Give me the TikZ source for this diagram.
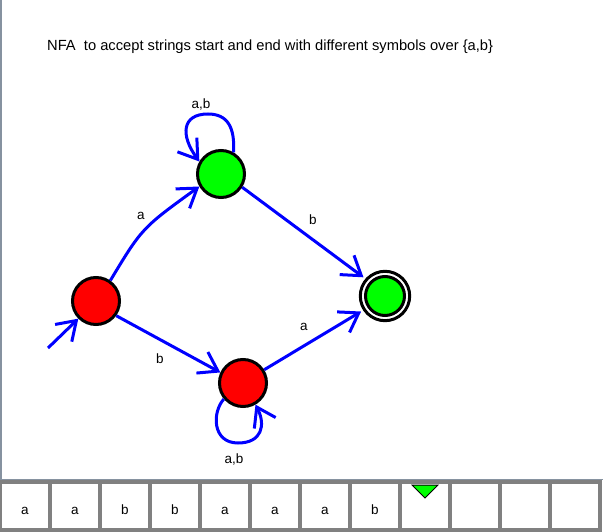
\documentclass[tikz,border=0pt]{standalone}
\usepackage{fontspec}
\setmainfont{Liberation Sans}
\usetikzlibrary{arrows.meta}
\definecolor{cellgray}{RGB}{128,128,128}
\definecolor{framegray}{RGB}{134,146,160}
\definecolor{stategreen}{RGB}{0,255,0}
\tikzset{
  % state styles (non-final red, non-final green, final)
  rejstate/.style={circle,draw=black,line width=3pt,fill=red,inner sep=0pt,minimum size=47pt},
  accstate/.style={rejstate,fill=stategreen},
  finstate/.style={circle,draw=black,line width=3pt,fill=stategreen,inner sep=0pt,minimum size=39pt,outer sep=9pt},
  % transitions and their labels
  trans/.style={draw=blue,line width=3pt,-{Straight Barb[length=18pt,width=24pt,line width=3pt]}},
  translabel/.style={font=\fontsize{13.5}{16}\selectfont,inner sep=0pt},
  % input tape
  tapecell/.style={draw=cellgray,line width=4pt,minimum width=50pt,minimum height=47.5pt,inner sep=0pt,
    text height=17pt,text depth=0pt,font=\fontsize{13.5}{16}\selectfont},
  headmark/.style={draw=black,line width=1pt,fill=stategreen},
}
\begin{document}
\begin{tikzpicture}[x=1pt,y=-1pt]
  \useasboundingbox (0,0) rectangle (603,532);
  \draw[framegray,line width=3pt] (0,0) -- (0,479);
  \draw[framegray,line width=1pt] (0,479) -- (603,479);
  \node[anchor=west,inner sep=0pt,font=\fontsize{14.7}{17}\selectfont] (title) at (47,47)
    {NFA\ \ to accept strings start and end with different symbols over \{a,b\}};
  % states
  \node[rejstate] (q0) at (96,301) {};
  \node[accstate] (q1) at (221,174) {};
  \node[rejstate] (q2) at (243,383) {};
  \node[finstate] (q3) at (385,296) {};
  \draw[line width=3pt] (q3.center) circle (24.7);
  % transitions
  \coordinate (init) at (48,348);
  \draw[trans] (init) -- (q0.225);
  \draw[trans] (q0.55) .. controls (142,228) .. (q1.210);
  \draw[trans] (q1.328) -- (q3.139);
  \draw[trans] (q0.324) -- (q2.155);
  \draw[trans] (q2.32) -- (q3.213);
  % self loops
  \draw[trans] (q1.60) .. controls (235,128) and (228,114) .. (208,114)
    .. controls (182,114) and (180,135) .. (q1.150);
  \draw[trans] (q2.220) .. controls (212,412) and (212,443) .. (238,443)
    .. controls (262,443) and (266,425) .. (q2.300);
  \node[translabel] at (141,216) {a};
  \node[translabel] at (313,220) {b};
  \node[translabel] at (160,359) {b};
  \node[translabel] at (304,327) {a};
  \node[translabel] at (201,104) {a,b};
  \node[translabel] at (234,459) {a,b};
  % tape
  \node[tapecell] (c1) at (25,506) {a};
  \node[tapecell] (c2) at (75,506) {a};
  \node[tapecell] (c3) at (125,506) {b};
  \node[tapecell] (c4) at (175,506) {b};
  \node[tapecell] (c5) at (225,506) {a};
  \node[tapecell] (c6) at (275,506) {a};
  \node[tapecell] (c7) at (325,506) {a};
  \node[tapecell] (c8) at (375,506) {b};
  \node[tapecell] (c9) at (425,506) {};
  \node[tapecell] (c10) at (475,506) {};
  \node[tapecell] (c11) at (525,506) {};
  \node[tapecell] (c12) at (575,506) {};
  \draw[headmark] (412,485) -- (438,485) -- (425,498) -- cycle;
\end{tikzpicture}
\end{document}
